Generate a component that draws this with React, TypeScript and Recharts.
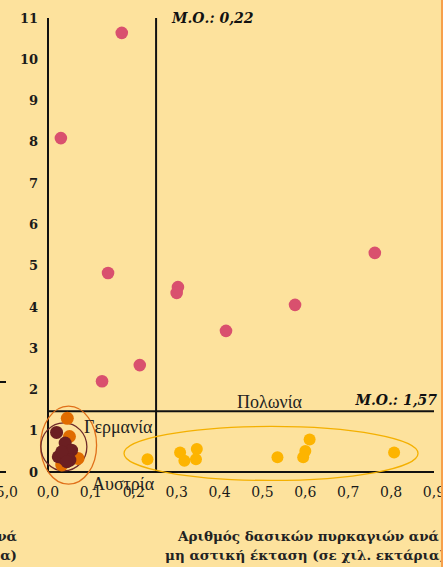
import { ScatterChart, Scatter, XAxis, YAxis, ReferenceLine, ReferenceDot } from "recharts";

// values
const pinkCountries = [
  { x: 0.172, y: 10.64 },
  { x: 0.03, y: 8.09 },
  { x: 0.14, y: 4.82 },
  { x: 0.303, y: 4.48 },
  { x: 0.3, y: 4.34 },
  { x: 0.415, y: 3.42 },
  { x: 0.576, y: 4.05 },
  { x: 0.762, y: 5.31 },
  { x: 0.214, y: 2.59 },
  { x: 0.126, y: 2.2 },
];

const yellowCountries = [
  { x: 0.232, y: 0.31 },
  { x: 0.308, y: 0.47 },
  { x: 0.318, y: 0.27 },
  { x: 0.347, y: 0.56 },
  { x: 0.345, y: 0.31 },
  { x: 0.535, y: 0.36 },
  { x: 0.595, y: 0.36 },
  { x: 0.6, y: 0.51 },
  { x: 0.61, y: 0.79 },
  { x: 0.807, y: 0.47 },
];

const orangeCountries = [
  { x: 0.045, y: 1.3 },
  { x: 0.05, y: 0.86 },
  { x: 0.07, y: 0.33 },
  { x: 0.032, y: 0.17 },
];

const brownCountries = [
  { x: 0.02, y: 0.96 },
  { x: 0.04, y: 0.7 },
  { x: 0.055, y: 0.53 },
  { x: 0.024, y: 0.37 },
  { x: 0.036, y: 0.33 },
  { x: 0.051, y: 0.29 },
  { x: 0.032, y: 0.49 },
  { x: 0.044, y: 0.25 },
];

const xTicks = [0, 0.1, 0.2, 0.3, 0.4, 0.5, 0.6, 0.7, 0.8, 0.9];
const yTicks = [0, 1, 2, 3, 4, 5, 6, 7, 8, 9, 10, 11];

// mean lines (drawn where the picture draws them) and their labels
const meanLineX = 0.252;
const meanLineY = 1.47;
const meanLabelX = "Μ.Ο.: 0,22";
const meanLabelY = "Μ.Ο.: 1,57";

const BG = "#fde29d";
const SERIF = "'DejaVu Serif', serif";
const TIMES = "'Liberation Serif', serif";

const dot = (fill: string, r: number) => (p: any) =>
  <circle cx={p.cx} cy={p.cy} r={r} fill={fill} />;

const ellipse = (rx: number, ry: number, stroke: string) => (p: any) =>
  <ellipse cx={p.cx} cy={p.cy} rx={rx} ry={ry} fill="none" stroke={stroke} strokeWidth={1.3} />;

const fmt = (v: number) => v.toFixed(1).replace(".", ",");

export default function App() {
  return (
    <div style={{ position: "absolute", left: 0, top: 0, width: 443, height: 567, background: BG, overflow: "hidden" }}>
      <ScatterChart width={443} height={567} margin={{ top: 18, right: 9, left: 0, bottom: 65 }}>
        <XAxis
          type="number"
          dataKey="x"
          domain={[0, 0.9]}
          ticks={xTicks}
          interval={0}
          tickFormatter={fmt}
          axisLine={{ stroke: "#111", strokeWidth: 2 }}
          tickLine={false}
          tickMargin={9}
          height={30}
          tick={{ fill: "#1a1a1a", fontSize: 14, fontFamily: SERIF }}
        />
        <YAxis
          type="number"
          dataKey="y"
          domain={[0, 11]}
          ticks={yTicks}
          interval={0}
          width={48}
          axisLine={{ stroke: "#111", strokeWidth: 2 }}
          tickLine={false}
          tickMargin={4}
          tick={{ fill: "#1a1a1a", fontSize: 13, fontWeight: "bold", fontFamily: SERIF }}
        />
        <ReferenceLine x={meanLineX} stroke="#111" strokeWidth={2} />
        <ReferenceLine y={meanLineY} stroke="#111" strokeWidth={2} />
        <ReferenceDot x={0.52} y={0.45} ifOverflow="visible" shape={ellipse(147, 27, "#f4b000")} />
        <ReferenceDot x={0.048} y={0.65} ifOverflow="visible" shape={ellipse(28, 39, "#e0701a")} />
        <ReferenceDot x={0.037} y={0.61} ifOverflow="visible" shape={ellipse(23, 24, "#6e2a2a")} />
        <Scatter data={yellowCountries} shape={dot("#fdb400", 6)} isAnimationActive={false} />
        <Scatter data={pinkCountries} shape={dot("#d9506e", 6.3)} isAnimationActive={false} />
        <Scatter data={orangeCountries} shape={dot("#e06c00", 6.5)} isAnimationActive={false} />
        <Scatter data={brownCountries} shape={dot("#6b1f22", 6.5)} isAnimationActive={false} />
      </ScatterChart>
      <svg width={443} height={567} style={{ position: "absolute", left: 0, top: 0, pointerEvents: "none" }}>
        <text x={172} y={23} fontFamily={SERIF} fontSize={14} fontWeight="bold" fontStyle="italic" fill="#111">{meanLabelX}</text>
        <text x={437} y={405} textAnchor="end" fontFamily={SERIF} fontSize={14} fontWeight="bold" fontStyle="italic" fill="#111">{meanLabelY}</text>
        <text x={84} y={433} fontFamily={TIMES} fontSize={18} fill="#222">Γερμανία</text>
        <text x={92} y={490} fontFamily={TIMES} fontSize={18} fill="#222">Αυστρία</text>
        <text x={237} y={408} fontFamily={TIMES} fontSize={18} fill="#222">Πολωνία</text>
        <text x={178} y={541} fontFamily={SERIF} fontSize={13.5} fontWeight="bold" fill="#222">Αριθμός δασικών πυρκαγιών ανά</text>
        <text x={165} y={560} fontFamily={SERIF} fontSize={13.5} fontWeight="bold" fill="#222">μη αστική έκταση (σε χιλ. εκτάρια)</text>
        {/* fragments of the neighbouring panel on the left */}
        <line x1={0} y1={382} x2={6} y2={382} stroke="#111" strokeWidth={2} />
        <line x1={0} y1={472} x2={6} y2={472} stroke="#111" strokeWidth={2} />
        <text x={18} y={497} textAnchor="end" fontFamily={SERIF} fontSize={14} fill="#1a1a1a">5,0</text>
        <text x={17} y={541} textAnchor="end" fontFamily={SERIF} fontSize={13.5} fontWeight="bold" fill="#222">ανά</text>
        <text x={17} y={560} textAnchor="end" fontFamily={SERIF} fontSize={13.5} fontWeight="bold" fill="#222">α)</text>
      </svg>
      <div style={{ position: "absolute", left: 441, top: 0, width: 2, height: 567, background: "#f7a04b" }} />
    </div>
  );
}
